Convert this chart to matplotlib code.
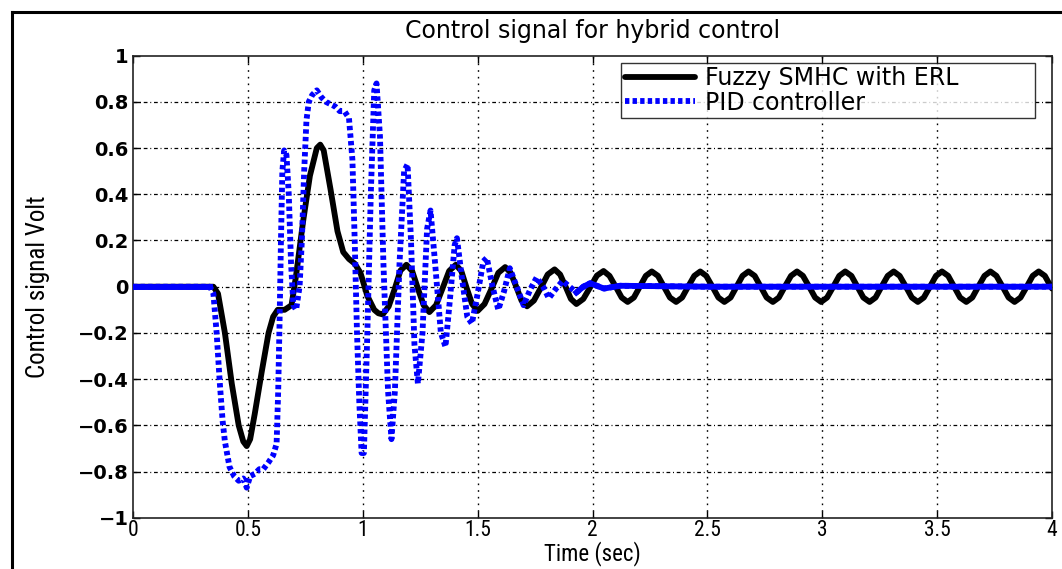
import matplotlib
matplotlib.use("Agg")
import matplotlib.pyplot as plt
from matplotlib.lines import Line2D
from matplotlib import font_manager as fm
import numpy as np

# ---------------- data ----------------
title_text = "Control signal for hybrid control"
x_label = "Time (sec)"
y_label = "Control signal Volt"
series_names = ["Fuzzy SMHC with ERL", "PID controller"]

x_ticks = [0, 0.5, 1, 1.5, 2, 2.5, 3, 3.5, 4]
x_tick_labels = ["0", "0.5", "1", "1.5", "2", "2.5", "3", "3.5", "4"]
y_ticks = [-1, -0.8, -0.6, -0.4, -0.2, 0, 0.2, 0.4, 0.6, 0.8, 1]
y_tick_labels = ["\u22121", "\u22120.8", "\u22120.6", "\u22120.4", "\u22120.2", "0",
                 "0.2", "0.4", "0.6", "0.8", "1"]

# Fuzzy SMHC with ERL (black)
t_fuzzy = [0.00, 0.35, 0.37, 0.40, 0.43, 0.46, 0.48, 0.495, 0.51, 0.53, 0.56, 0.59,
           0.61, 0.63, 0.66, 0.69, 0.71, 0.74, 0.77, 0.80, 0.815, 0.83, 0.86, 0.89,
           0.915, 0.94, 0.965, 0.99, 1.02, 1.05, 1.068, 1.087, 1.113, 1.138, 1.164,
           1.19, 1.215, 1.24, 1.265, 1.29, 1.319, 1.347, 1.376, 1.405, 1.429, 1.452,
           1.476, 1.50, 1.53, 1.56, 1.59, 1.62, 1.644, 1.668, 1.691, 1.715, 1.745,
           1.775, 1.805, 1.835, 1.859, 1.883, 1.906, 1.93, 1.96, 1.989, 2.019,
           2.048, 2.074, 2.101, 2.127, 2.153, 2.180, 2.206, 2.232, 2.258, 2.285,
           2.311, 2.337, 2.364, 2.390, 2.416, 2.443, 2.469, 2.495, 2.522, 2.548,
           2.574, 2.601, 2.627, 2.653, 2.679, 2.706, 2.732, 2.758, 2.785, 2.811,
           2.837, 2.864, 2.890, 2.916, 2.943, 2.969, 2.995, 3.021, 3.048, 3.074,
           3.100, 3.127, 3.153, 3.179, 3.206, 3.232, 3.258, 3.285, 3.311, 3.337,
           3.364, 3.390, 3.416, 3.442, 3.469, 3.495, 3.521, 3.548, 3.574, 3.600,
           3.627, 3.653, 3.679, 3.706, 3.732, 3.758, 3.785, 3.811, 3.837, 3.863,
           3.890, 3.916, 3.942, 3.969, 3.995, 4.000]
u_fuzzy = [0.0, 0.0, -0.03, -0.20, -0.42, -0.60, -0.67, -0.69, -0.66, -0.55, -0.37, -0.20,
           -0.13, -0.10, -0.10, -0.08, 0.05, 0.28, 0.48, 0.60, 0.615, 0.59, 0.42, 0.24,
           0.15, 0.12, 0.10, 0.06, -0.04, -0.10, -0.115, -0.12, -0.085, -0.013, 0.07,
           0.095, 0.068, -0.008, -0.08, -0.11, -0.08, -0.008, 0.068, 0.095, 0.068, -0.005,
           -0.075, -0.105, -0.075, -0.01, 0.06, 0.085, 0.06, 0.0, -0.06, -0.085, -0.06,
           -0.005, 0.053, 0.075, 0.053, 0.0, -0.053, -0.075, -0.053, -0.004, 0.048,
           0.068, 0.047, 0.0, -0.047, -0.066, -0.047, 0.0, 0.047, 0.066, 0.047,
           0.0, -0.047, -0.066, -0.047, 0.0, 0.047, 0.066, 0.047, 0.0, -0.047,
           -0.066, -0.047, 0.0, 0.047, 0.066, 0.047, 0.0, -0.047, -0.066, -0.047,
           0.0, 0.047, 0.066, 0.047, 0.0, -0.047, -0.066, -0.047, 0.0, 0.047,
           0.066, 0.047, 0.0, -0.047, -0.066, -0.047, 0.0, 0.047, 0.066, 0.047,
           0.0, -0.047, -0.066, -0.047, 0.0, 0.047, 0.066, 0.047, 0.0, -0.047,
           -0.066, -0.047, 0.0, 0.047, 0.066, 0.047, 0.0, -0.047, -0.066, -0.047,
           0.0, 0.047, 0.066, 0.047, 0.0, -0.008]

# PID controller (blue)
t_pid = [0.00, 0.335, 0.35, 0.364, 0.378, 0.39, 0.40, 0.42, 0.44, 0.46, 0.48, 0.495,
         0.51, 0.53, 0.55, 0.567, 0.59, 0.61, 0.625, 0.632, 0.638, 0.644, 0.65, 0.658,
         0.668, 0.678, 0.688, 0.698, 0.71, 0.725, 0.735, 0.745, 0.755, 0.765, 0.78,
         0.80, 0.82, 0.84, 0.86, 0.88, 0.90, 0.92, 0.94, 0.955, 0.965, 0.975, 0.985,
         0.995, 1.005, 1.02, 1.035, 1.05, 1.06, 1.075, 1.09, 1.11, 1.125, 1.14, 1.16,
         1.18, 1.195, 1.21, 1.225, 1.24, 1.26, 1.28, 1.295, 1.315, 1.34, 1.36, 1.38,
         1.40, 1.41, 1.43, 1.455, 1.475, 1.50, 1.525, 1.54, 1.565, 1.59, 1.615, 1.64,
         1.67, 1.70, 1.73, 1.757, 1.785, 1.81, 1.84, 1.87, 1.90, 1.93, 1.96, 1.99,
         2.05, 2.12, 2.5, 3.0, 4.0]
u_pid = [0.0, 0.0, -0.03, -0.20, -0.42, -0.58, -0.67, -0.78, -0.82, -0.84, -0.83, -0.87,
         -0.82, -0.81, -0.79, -0.79, -0.76, -0.73, -0.68, -0.45, -0.15, 0.20, 0.50, 0.59,
         0.57, 0.40, 0.10, -0.08, -0.10, 0.0, 0.20, 0.50, 0.72, 0.80, 0.83,
         0.85, 0.82, 0.80, 0.79, 0.78, 0.76, 0.76, 0.73, 0.55, 0.20, -0.20, -0.50,
         -0.72, -0.72, -0.20, 0.40, 0.85, 0.88, 0.65, 0.10, -0.45, -0.66, -0.45, 0.10,
         0.50, 0.53, 0.20, -0.25, -0.42, -0.20, 0.25, 0.33, 0.10, -0.20, -0.26, -0.05,
         0.18, 0.21, 0.05, -0.13, -0.16, -0.03, 0.11, 0.125, 0.0, -0.10, -0.02, 0.08,
         0.0, -0.08, -0.01, 0.04, 0.0, -0.05, -0.01, 0.025, 0.0, -0.025, 0.0, 0.015,
         -0.008, 0.004, 0.0, 0.0, 0.0]

# ---------------- fonts ----------------
_names = {f.name for f in fm.fontManager.ttflist}
_narrow_family = None
for cand in ["Liberation Sans Narrow", "Arial Narrow", "Roboto Condensed",
             "Open Sans Condensed", "Noto Sans Display"]:
    if cand in _names:
        _narrow_family = cand
        break
if _narrow_family is None:
    _narrow_family = "DejaVu Sans"
    narrow_stretch = "condensed"
else:
    narrow_stretch = "normal"


def narrow_fp(size):
    return fm.FontProperties(family=[_narrow_family, "DejaVu Sans"], size=size,
                             stretch=narrow_stretch)


def wide_fp(size, weight="normal"):
    return fm.FontProperties(family=["DejaVu Sans"], size=size, weight=weight)


# ---------------- figure ----------------
W, H = 1062, 569
fig = plt.figure(figsize=(W / 100, H / 100), dpi=100)
fig.patch.set_facecolor("white")

ax = fig.add_axes([133 / W, 1 - 517.7 / H, (1052 - 133) / W, (517.7 - 55.7) / H])

tf = np.array(t_fuzzy)
uf = np.array(u_fuzzy)
tp = np.array(t_pid)
up = np.array(u_pid)

ax.plot(tf, uf, color="black", lw=4.2, solid_joinstyle="round",
        solid_capstyle="round", label=series_names[0], zorder=3)
ax.plot(tp, up, color=(0, 0, 1), lw=4.2, linestyle=(0, (0.75, 0.55)),
        dash_capstyle="butt", label=series_names[1], zorder=4)
# settled stretches of the PID trace render as a continuous band in the reference
flat = (tp <= 0.34)
ax.plot(tp[flat], up[flat], color=(0, 0, 1), lw=4.2, zorder=4)
tail = (tp >= 1.93)
ax.plot(tp[tail], up[tail], color=(0, 0, 1), lw=4.2, zorder=4)

ax.set_xlim(0, 4)
ax.set_ylim(-1, 1)
ax.set_xticks(x_ticks)
ax.set_xticklabels(x_tick_labels, fontproperties=narrow_fp(15.5))
ax.set_yticks(y_ticks)
ax.set_yticklabels(y_tick_labels, fontproperties=wide_fp(14, "bold"))
ax.tick_params(direction="in", length=5, width=1, top=True, right=True,
               pad=3, colors="black")
ax.tick_params(axis="x", pad=1.5)

for s in ax.spines.values():
    s.set_linewidth(1.2)
    s.set_color("#222222")

ax.grid(False)
for y in y_ticks[1:-1]:
    ax.axhline(y, color="black", lw=0.9, linestyle=(0, (3, 2.2, 0.8, 2.2)), zorder=1)
for x in x_ticks[1:-1]:
    ax.axvline(x, color="black", lw=1.0, linestyle=(0, (1.2, 3.6)), zorder=1)

ax.set_xlabel(x_label, fontproperties=narrow_fp(16.5), labelpad=0)
ax.set_ylabel(y_label, fontproperties=narrow_fp(18), labelpad=20)

fig.text((133 + 1052) / 2 / W, 1 - 31 / H, title_text, ha="center", va="center",
         fontproperties=wide_fp(17))

leg = ax.legend(loc="upper left",
                bbox_to_anchor=((621 - 133) / (1052 - 133), 1 - (63 - 55.7) / 462,
                                (1035 - 621) / (1052 - 133), 0.001),
                mode="expand", borderaxespad=0, frameon=True, fancybox=False,
                handlelength=3.0, handletextpad=0.4, labelspacing=0.02,
                borderpad=0.15, prop=wide_fp(17))
leg.get_frame().set_edgecolor("black")
leg.get_frame().set_linewidth(1.0)

# outer frame of the figure (top and left edges)
fig.add_artist(Line2D([11.5 / W, 11.5 / W], [0, 1 - 11.5 / H], color="black", lw=2.2,
                      transform=fig.transFigure, solid_capstyle="projecting"))
fig.add_artist(Line2D([11.5 / W, 1], [1 - 11.5 / H, 1 - 11.5 / H], color="black", lw=2.2,
                      transform=fig.transFigure, solid_capstyle="projecting"))

fig.savefig("out.png", dpi=100, facecolor="white")
